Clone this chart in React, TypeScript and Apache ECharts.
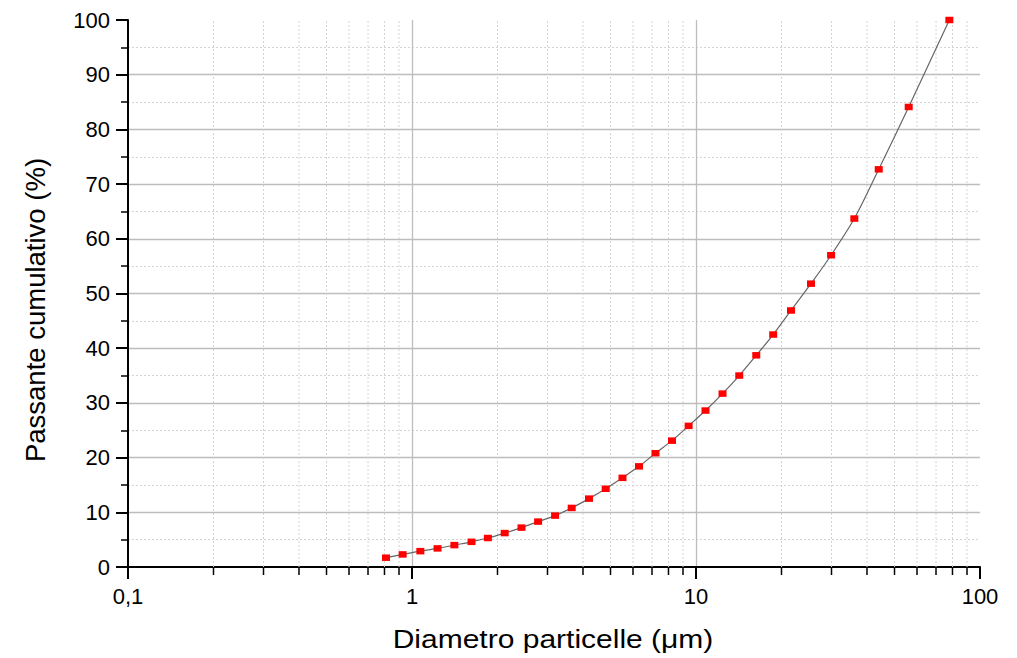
import React, { useEffect, useRef } from "react";
import * as echarts from "echarts";

const diameters = [
  0.81, 0.927, 1.07, 1.23, 1.41, 1.62, 1.85, 2.12, 2.43, 2.78, 3.19, 3.65, 4.2,
  4.81, 5.51, 6.3, 7.2, 8.23, 9.42, 10.8, 12.4, 14.2, 16.3, 18.7, 21.6, 25.4,
  29.9, 36.1, 44.0, 56.1, 78,
];
const passante = [
  1.7, 2.3, 2.9, 3.4, 4.0, 4.6, 5.3, 6.2, 7.2, 8.3, 9.4, 10.8, 12.5, 14.3,
  16.3, 18.4, 20.8, 23.1, 25.8, 28.6, 31.7, 35.0, 38.7, 42.5, 46.9, 51.8, 57.0,
  63.7, 72.7, 84.1, 100,
];
const minorX = [
  0.2, 0.3, 0.4, 0.5, 0.6, 0.7, 0.8, 0.9, 2, 3, 4, 5, 6, 7, 8, 9, 20, 30, 40,
  50, 60, 70, 80, 90,
];
const xName = "Diametro particelle (\u03bcm)";
const yName = "Passante cumulativo (%)";

const FONT = "'Liberation Sans', Arial, sans-serif";

export default function App() {
  const ref = useRef<HTMLDivElement>(null);
  useEffect(() => {
    if (!ref.current) return;
    const chart = echarts.init(ref.current, null, { renderer: "svg" });
    const points = diameters.map((d, i) => [d, passante[i]]);
    chart.setOption({
      animation: false,
      backgroundColor: "#ffffff",
      grid: { left: 128, right: 37, top: 20, bottom: 91, containLabel: false },
      xAxis: {
        type: "log",
        logBase: 10,
        min: 0.1,
        max: 100,
        axisLine: { show: true, onZero: false, lineStyle: { color: "#000", width: 2 } },
        axisTick: { show: true, inside: false, length: 12, lineStyle: { color: "#000", width: 2 } },
        axisLabel: {
          color: "#000",
          fontSize: 22,
          fontFamily: FONT,
          margin: 18,
          formatter: (v: number) => String(Number(v.toPrecision(6))).replace(".", ","),
        },
        splitLine: {
          show: true,
          showMinLine: false,
          showMaxLine: false,
          lineStyle: { color: "#bdbdbd", width: 1.3 },
        },
      },
      yAxis: {
        type: "value",
        min: 0,
        max: 100,
        interval: 10,
        axisLine: { show: true, lineStyle: { color: "#000", width: 2 } },
        axisTick: { show: true, inside: false, length: 12, lineStyle: { color: "#000", width: 2 } },
        minorTick: { show: true, splitNumber: 2, length: 7, lineStyle: { color: "#000", width: 1.5 } },
        minorSplitLine: {
          show: true,
          lineStyle: { color: "#d4d4d4", width: 1, type: [2, 2] },
        },
        axisLabel: { color: "#000", fontSize: 22, fontFamily: FONT, margin: 18 },
        splitLine: {
          show: true,
          showMinLine: false,
          showMaxLine: false,
          lineStyle: { color: "#bdbdbd", width: 1.3 },
        },
      },
      graphic: [
        {
          type: "text",
          x: 553,
          y: 639,
          scaleX: 1.2,
          style: {
            text: xName,
            fill: "#000",
            fontSize: 25,
            fontFamily: FONT,
            textAlign: "center",
            textVerticalAlign: "middle",
          },
        },
        {
          type: "text",
          x: 35,
          y: 310,
          rotation: Math.PI / 2,
          style: {
            text: yName,
            fill: "#000",
            fontSize: 27.5,
            fontFamily: FONT,
            textAlign: "center",
            textVerticalAlign: "middle",
          },
        },
      ],
      series: [
        {
          type: "custom",
          clip: false,
          silent: true,
          z: 1,
          data: minorX.map((v) => [v, 0]),
          encode: { x: 0, y: 1 },
          renderItem: (params: any, api: any) => {
            const v = api.value(0);
            const p0 = api.coord([v, 0]);
            const p1 = api.coord([v, 100]);
            return {
              type: "group",
              children: [
                {
                  type: "line",
                  shape: { x1: p0[0], y1: p0[1], x2: p1[0], y2: p1[1] },
                  style: { stroke: "#d4d4d4", lineWidth: 1, lineDash: [2, 2] },
                },
                {
                  type: "line",
                  shape: { x1: p0[0], y1: p0[1], x2: p0[0], y2: p0[1] + 8 },
                  style: { stroke: "#000", lineWidth: 1.5 },
                },
              ],
            };
          },
        },
        {
          type: "line",
          data: points,
          smooth: 0.3,
          showSymbol: true,
          symbol: "rect",
          symbolSize: [8, 6.5],
          itemStyle: { color: "#ff0000" },
          lineStyle: { color: "#666666", width: 1.2 },
          z: 3,
        },
      ],
    });
    return () => chart.dispose();
  }, []);
  return (
    <div
      ref={ref}
      style={{ position: "absolute", left: 0, top: 0, width: 1017, height: 658 }}
    />
  );
}
